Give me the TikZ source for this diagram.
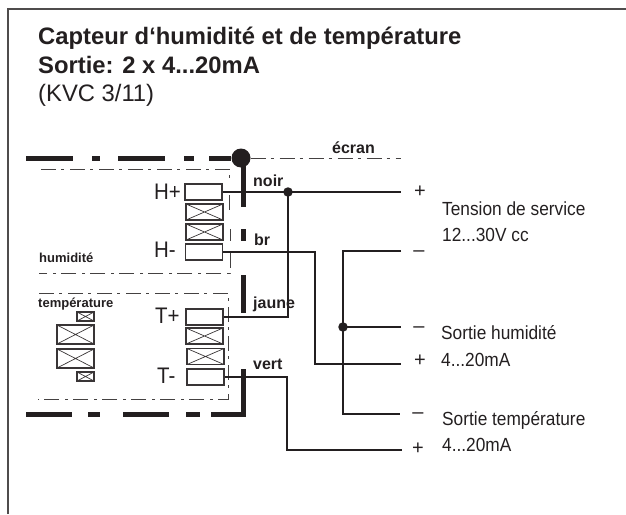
\documentclass[tikz,border=0pt]{standalone}
\usepackage{fontspec}
\setmainfont{Liberation Sans}
\newfontfamily\condfont[FakeStretch=0.91]{Liberation Sans}
\definecolor{ink}{HTML}{231F20}
\tikzset{
  x=1pt,y=-1pt,
  wire/.style={draw=ink,line width=1.7pt},
  shield/.style={draw=ink,line width=5pt},
  thin dd/.style={draw=ink!85,line width=0.9pt,dash pattern=on 15pt off 5pt on 3pt off 6pt},
  plain box/.style={draw=ink!90,line width=1.1pt,fill=white,inner sep=0pt,minimum width=37pt,minimum height=16pt},
  cross box/.style={plain box,path picture={\draw[ink!90,line width=.7pt](path picture bounding box.north west)--(path picture bounding box.south east)(path picture bounding box.south west)--(path picture bounding box.north east);}},
  dot/.style={circle,fill=ink,inner sep=0pt,minimum size=#1},
  txt/.style={anchor=base west,inner sep=0pt,text=ink},
  lab/.style={txt,font=\bfseries\fontsize{16}{16}\selectfont},
  smalllab/.style={txt,font=\bfseries\fontsize{13}{13}\selectfont},
  term/.style={txt,font=\condfont\fontsize{22.5}{22.5}\selectfont},
  desc/.style={txt,font=\condfont\fontsize{19}{19}\selectfont},
  sign/.style={inner sep=0pt,text=ink,font=\fontsize{20}{20}\selectfont},
}
\begin{document}
\begin{tikzpicture}
\useasboundingbox (0,0) rectangle (626,514);
% frame
\draw[ink!80,line width=1.1pt] (8,514)--(8,9)--(626,9);
% titles
\node[txt,font=\bfseries\fontsize{23.8}{23.8}\selectfont] (t1) at (38,44.5) {Capteur d‘humidité et de température};
\node[txt,font=\bfseries\fontsize{23.8}{23.8}\selectfont] (t2) at (38,73) {Sortie: 2 x 4...20mA};
\node[txt,font=\fontsize{23.8}{23.8}\selectfont] (t3) at (38,101) {(KVC 3/11)};
% shield top
\coordinate (s1a) at (26,158);\coordinate (s1b) at (73,158);
\coordinate (s2a) at (92,158);\coordinate (s2b) at (100,158);
\coordinate (s3a) at (118,158);\coordinate (s3b) at (165,158);
\coordinate (s4a) at (184,158);\coordinate (s4b) at (194,158);
\coordinate (s5a) at (209,158);
\node[dot=19pt] (gnd) at (241,158) {};
\draw[shield] (s1a)--(s1b) (s2a)--(s2b) (s3a)--(s3b) (s4a)--(s4b) (s5a)--(gnd);
\coordinate (v1) at (243,207);
\draw[shield] (gnd.center -| v1)--(v1);
\draw[shield] (243,229)--(243,241) (243,275)--(243,313);
% shield bottom
\draw[shield] (26,414)--(72,414) (88,414)--(100,414) (123,414)--(169,414) (186,414)--(200,414);
\draw[shield] (211,414)--(243,414)--(243,369);
% inner dash-dot
\draw[thin dd] (41,169)--(229,169)--(229,182);
\draw[thin dd] (229,195)--(229,210);
\draw[thin dd] (230,229)--(230,241);
\draw[thin dd] (230,253)--(230,273)--(39,273);
\draw[thin dd] (39,293)--(228,293)--(228,399)--(38,399);
% ecran
\coordinate (sc) at (401,158);
\draw[thin dd] (gnd)--(sc);
% boxes
\node[plain box] (hp) at (203.5,192) {};
\node[cross box] (x1) at (204.5,212) {};
\node[cross box] (x2) at (204.5,232) {};
\node[plain box] (hm) at (204,252) {};
\node[plain box] (tp) at (204.5,317) {};
\node[cross box] (x3) at (204.5,336) {};
\node[cross box] (x4) at (205.5,356.5) {};
\node[plain box] (tm) at (205.5,377) {};
\node[cross box,minimum width=17pt,minimum height=9pt] (l1) at (85.5,316.5) {};
\node[cross box,minimum height=19pt] (l2) at (75.5,334.5) {};
\node[cross box,minimum height=19pt] (l3) at (75.5,358.5) {};
\node[cross box,minimum width=17pt,minimum height=9pt] (l4) at (85.5,376.5) {};
% terminals coordinates
\coordinate (ep) at (401,192);
\coordinate (em) at (401,251);
\coordinate (es) at (401,327);
\coordinate (ehp) at (401,364);
\coordinate (etm) at (400,414);
\coordinate (etp) at (402,450);
\node[dot=9.5pt] (j1) at (288,192) {};
\node[dot=9.5pt] (j2) at (343,327) {};
% wires
\draw[wire] (hp.east)--(ep);
\draw[wire] (j1.center)--(288,317)--(tp.east);
\draw[wire] (hm.east)--(315,252)--(315,364)--(ehp);
\draw[wire] (em)--(343,251)--(343,414)--(etm);
\draw[wire] (j2.center)--(es);
\draw[wire] (tm.east)--(287,377)--(287,450)--(etp);
% signs
\node[sign] (sp1) at (420,192) {+};
\node[sign] (sm1) at (419,253.5) {–};
\node[sign] (sm2) at (419,329.5) {–};
\node[sign] (sp2) at (420,361) {+};
\node[sign] (sm3) at (418,415.5) {–};
\node[sign] (sp3) at (418,449) {+};
% text
\node[desc] (d1) at (442,215) {Tension de service};
\node[desc] (d2) at (442,241) {12...30V cc};
\node[desc] (d3) at (441,339) {Sortie humidité};
\node[desc] (d4) at (441,366) {4...20mA};
\node[desc] (d5) at (442,425) {Sortie température};
\node[desc] (d6) at (442,451) {4...20mA};
\node[term] (lhp) at (154,199) {H+};
\node[term] (lhm) at (154,257) {H-};
\node[term] (ltp) at (155,323) {T+};
\node[term] (ltm) at (157,383) {T-};
\node[lab] (noir) at (253,186) {noir};
\node[lab] (br) at (254,245) {br};
\node[lab] (jaune) at (253,308) {jaune};
\node[lab] (vert) at (253,369) {vert};
\node[lab] (ecran) at (332,153) {écran};
\node[smalllab] (hum) at (39,262) {humidité};
\node[smalllab] (temp) at (38,307) {température};
\end{tikzpicture}
\end{document}
